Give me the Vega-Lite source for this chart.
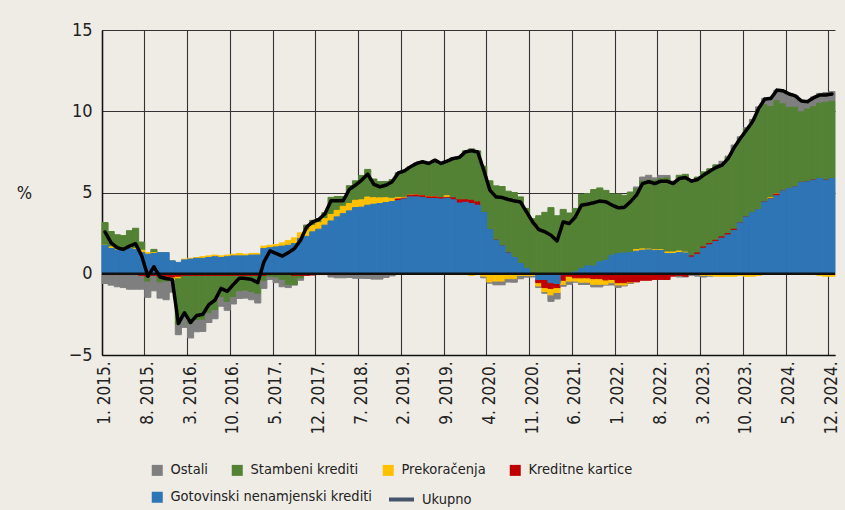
{
  "$schema": "https://vega.github.io/schema/vega-lite/v6.json",
  "width": 733,
  "height": 325,
  "autosize": {"type": "none"},
  "padding": {"left": 102, "top": 30, "right": 10, "bottom": 155},
  "background": "#EFECE6",
  "config": {
    "view": {"stroke": null},
    "font": "Liberation Sans Narrow, DejaVu Sans Condensed, sans-serif",
    "axis": {"labelFont": "Liberation Sans Narrow, DejaVu Sans Condensed, sans-serif", "labelColor": "#222222", "labelFontSize": 18, "ticks": false, "domainColor": "#111111", "domainWidth": 1.5, "gridColor": "#333333", "gridWidth": 1.1, "gridOpacity": 1},
    "legend": {"labelFont": "Liberation Sans Narrow, DejaVu Sans Condensed, sans-serif", "labelFontSize": 14.5, "labelColor": "#222222", "padding": 0, "labelLimit": 400}
  },
  "data": {"values": [
    {"m":"2015-01","Gotovinski nenamjenski krediti":1.75,"Kreditne kartice":-0.05,"Prekoračenja":0,"Stambeni krediti":1.4,"Ostali":-0.55,"Ukupno":2.57},
    {"m":"2015-02","Gotovinski nenamjenski krediti":1.55,"Kreditne kartice":-0.05,"Prekoračenja":0.1,"Stambeni krediti":0.95,"Ostali":-0.65,"Ukupno":1.9},
    {"m":"2015-03","Gotovinski nenamjenski krediti":1.45,"Kreditne kartice":-0.05,"Prekoračenja":0.05,"Stambeni krediti":0.9,"Ostali":-0.75,"Ukupno":1.6},
    {"m":"2015-04","Gotovinski nenamjenski krediti":1.45,"Kreditne kartice":-0.05,"Prekoračenja":0.05,"Stambeni krediti":0.85,"Ostali":-0.8,"Ukupno":1.5},
    {"m":"2015-05","Gotovinski nenamjenski krediti":1.55,"Kreditne kartice":-0.05,"Prekoračenja":0.05,"Stambeni krediti":1.05,"Ostali":-0.9,"Ukupno":1.7},
    {"m":"2015-06","Gotovinski nenamjenski krediti":1.5,"Kreditne kartice":-0.05,"Prekoračenja":0.05,"Stambeni krediti":1.25,"Ostali":-0.9,"Ukupno":1.85},
    {"m":"2015-07","Gotovinski nenamjenski krediti":1.3,"Kreditne kartice":-0.1,"Prekoračenja":0.15,"Stambeni krediti":0.5,"Ostali":-0.85,"Ukupno":1.1},
    {"m":"2015-08","Gotovinski nenamjenski krediti":1.2,"Kreditne kartice":-0.15,"Prekoračenja":0.1,"Stambeni krediti":-0.3,"Ostali":-1.0,"Ukupno":-0.15},
    {"m":"2015-09","Gotovinski nenamjenski krediti":1.25,"Kreditne kartice":-0.1,"Prekoračenja":0.05,"Stambeni krediti":0.2,"Ostali":-0.95,"Ukupno":0.43},
    {"m":"2015-10","Gotovinski nenamjenski krediti":1.3,"Kreditne kartice":-0.15,"Prekoračenja":0,"Stambeni krediti":-0.35,"Ostali":-1.0,"Ukupno":-0.2},
    {"m":"2015-11","Gotovinski nenamjenski krediti":1.3,"Kreditne kartice":-0.15,"Prekoračenja":0,"Stambeni krediti":-0.3,"Ostali":-1.15,"Ukupno":-0.3},
    {"m":"2015-12","Gotovinski nenamjenski krediti":0.78,"Kreditne kartice":-0.2,"Prekoračenja":-0.15,"Stambeni krediti":0,"Ostali":-0.78,"Ukupno":-0.35},
    {"m":"2016-01","Gotovinski nenamjenski krediti":0.7,"Kreditne kartice":-0.15,"Prekoračenja":-0.1,"Stambeni krediti":-2.85,"Ostali":-0.65,"Ukupno":-3.06},
    {"m":"2016-02","Gotovinski nenamjenski krediti":0.85,"Kreditne kartice":-0.1,"Prekoračenja":0.05,"Stambeni krediti":-2.5,"Ostali":-0.7,"Ukupno":-2.4},
    {"m":"2016-03","Gotovinski nenamjenski krediti":0.9,"Kreditne kartice":-0.1,"Prekoračenja":0.05,"Stambeni krediti":-2.95,"Ostali":-0.9,"Ukupno":-3.0},
    {"m":"2016-04","Gotovinski nenamjenski krediti":0.95,"Kreditne kartice":-0.1,"Prekoračenja":0.05,"Stambeni krediti":-2.72,"Ostali":-0.75,"Ukupno":-2.57},
    {"m":"2016-05","Gotovinski nenamjenski krediti":0.95,"Kreditne kartice":-0.1,"Prekoračenja":0.1,"Stambeni krediti":-2.7,"Ostali":-0.75,"Ukupno":-2.5},
    {"m":"2016-06","Gotovinski nenamjenski krediti":1.0,"Kreditne kartice":-0.1,"Prekoračenja":0.1,"Stambeni krediti":-2.3,"Ostali":-0.6,"Ukupno":-1.9},
    {"m":"2016-07","Gotovinski nenamjenski krediti":1.05,"Kreditne kartice":-0.1,"Prekoračenja":0.1,"Stambeni krediti":-2.1,"Ostali":-0.57,"Ukupno":-1.62},
    {"m":"2016-08","Gotovinski nenamjenski krediti":1.0,"Kreditne kartice":-0.1,"Prekoračenja":0.1,"Stambeni krediti":-1.3,"Ostali":-0.6,"Ukupno":-0.9},
    {"m":"2016-09","Gotovinski nenamjenski krediti":1.05,"Kreditne kartice":-0.1,"Prekoračenja":0.1,"Stambeni krediti":-1.6,"Ostali":-0.55,"Ukupno":-1.09},
    {"m":"2016-10","Gotovinski nenamjenski krediti":1.1,"Kreditne kartice":-0.1,"Prekoračenja":0.1,"Stambeni krediti":-1.3,"Ostali":-0.46,"Ukupno":-0.66},
    {"m":"2016-11","Gotovinski nenamjenski krediti":1.1,"Kreditne kartice":-0.1,"Prekoračenja":0.15,"Stambeni krediti":-0.95,"Ostali":-0.47,"Ukupno":-0.27},
    {"m":"2016-12","Gotovinski nenamjenski krediti":1.1,"Kreditne kartice":-0.1,"Prekoračenja":0.1,"Stambeni krediti":-0.9,"Ostali":-0.5,"Ukupno":-0.29},
    {"m":"2017-01","Gotovinski nenamjenski krediti":1.15,"Kreditne kartice":-0.1,"Prekoračenja":0.1,"Stambeni krediti":-1.0,"Ostali":-0.5,"Ukupno":-0.35},
    {"m":"2017-02","Gotovinski nenamjenski krediti":1.15,"Kreditne kartice":-0.1,"Prekoračenja":0.1,"Stambeni krediti":-1.1,"Ostali":-0.6,"Ukupno":-0.55},
    {"m":"2017-03","Gotovinski nenamjenski krediti":1.55,"Kreditne kartice":-0.1,"Prekoračenja":0.15,"Stambeni krediti":-0.3,"Ostali":-0.5,"Ukupno":0.72},
    {"m":"2017-04","Gotovinski nenamjenski krediti":1.6,"Kreditne kartice":-0.05,"Prekoračenja":0.15,"Stambeni krediti":-0.1,"Ostali":-0.2,"Ukupno":1.4},
    {"m":"2017-05","Gotovinski nenamjenski krediti":1.65,"Kreditne kartice":-0.05,"Prekoračenja":0.15,"Stambeni krediti":-0.15,"Ostali":-0.35,"Ukupno":1.25},
    {"m":"2017-06","Gotovinski nenamjenski krediti":1.7,"Kreditne kartice":-0.05,"Prekoračenja":0.2,"Stambeni krediti":-0.3,"Ostali":-0.45,"Ukupno":1.09},
    {"m":"2017-07","Gotovinski nenamjenski krediti":1.75,"Kreditne kartice":-0.05,"Prekoračenja":0.3,"Stambeni krediti":-0.6,"Ostali":-0.2,"Ukupno":1.3},
    {"m":"2017-08","Gotovinski nenamjenski krediti":1.86,"Kreditne kartice":-0.1,"Prekoračenja":0.35,"Stambeni krediti":-0.55,"Ostali":-0.05,"Ukupno":1.55},
    {"m":"2017-09","Gotovinski nenamjenski krediti":2.17,"Kreditne kartice":-0.1,"Prekoračenja":0.35,"Stambeni krediti":-0.15,"Ostali":-0.15,"Ukupno":2.06},
    {"m":"2017-10","Gotovinski nenamjenski krediti":2.3,"Kreditne kartice":-0.1,"Prekoračenja":0.4,"Stambeni krediti":0.28,"Ostali":0,"Ukupno":2.88},
    {"m":"2017-11","Gotovinski nenamjenski krediti":2.58,"Kreditne kartice":-0.08,"Prekoračenja":0.4,"Stambeni krediti":0.3,"Ostali":0,"Ukupno":3.19},
    {"m":"2017-12","Gotovinski nenamjenski krediti":2.74,"Kreditne kartice":-0.05,"Prekoračenja":0.4,"Stambeni krediti":0.25,"Ostali":0,"Ukupno":3.34},
    {"m":"2018-01","Gotovinski nenamjenski krediti":2.99,"Kreditne kartice":-0.05,"Prekoračenja":0.4,"Stambeni krediti":0.36,"Ostali":0,"Ukupno":3.7},
    {"m":"2018-02","Gotovinski nenamjenski krediti":3.25,"Kreditne kartice":-0.05,"Prekoračenja":0.4,"Stambeni krediti":1.05,"Ostali":-0.15,"Ukupno":4.49},
    {"m":"2018-03","Gotovinski nenamjenski krediti":3.5,"Kreditne kartice":-0.05,"Prekoračenja":0.4,"Stambeni krediti":0.85,"Ostali":-0.2,"Ukupno":4.49},
    {"m":"2018-04","Gotovinski nenamjenski krediti":3.7,"Kreditne kartice":-0.05,"Prekoračenja":0.45,"Stambeni krediti":0.6,"Ostali":-0.2,"Ukupno":4.5},
    {"m":"2018-05","Gotovinski nenamjenski krediti":3.87,"Kreditne kartice":-0.03,"Prekoračenja":0.45,"Stambeni krediti":1.1,"Ostali":-0.2,"Ukupno":5.2},
    {"m":"2018-06","Gotovinski nenamjenski krediti":4.07,"Kreditne kartice":-0.03,"Prekoračenja":0.45,"Stambeni krediti":1.2,"Ostali":-0.25,"Ukupno":5.45},
    {"m":"2018-07","Gotovinski nenamjenski krediti":4.1,"Kreditne kartice":-0.03,"Prekoračenja":0.45,"Stambeni krediti":1.5,"Ostali":-0.25,"Ukupno":5.76},
    {"m":"2018-08","Gotovinski nenamjenski krediti":4.22,"Kreditne kartice":-0.03,"Prekoračenja":0.5,"Stambeni krediti":1.7,"Ostali":-0.26,"Ukupno":6.13},
    {"m":"2018-09","Gotovinski nenamjenski krediti":4.28,"Kreditne kartice":-0.03,"Prekoračenja":0.4,"Stambeni krediti":1.15,"Ostali":-0.3,"Ukupno":5.5},
    {"m":"2018-10","Gotovinski nenamjenski krediti":4.32,"Kreditne kartice":-0.03,"Prekoračenja":0.35,"Stambeni krediti":1.0,"Ostali":-0.3,"Ukupno":5.35},
    {"m":"2018-11","Gotovinski nenamjenski krediti":4.38,"Kreditne kartice":-0.03,"Prekoračenja":0.3,"Stambeni krediti":1.0,"Ostali":-0.2,"Ukupno":5.45},
    {"m":"2018-12","Gotovinski nenamjenski krediti":4.44,"Kreditne kartice":-0.03,"Prekoračenja":0.2,"Stambeni krediti":1.15,"Ostali":-0.1,"Ukupno":5.66},
    {"m":"2019-01","Gotovinski nenamjenski krediti":4.5,"Kreditne kartice":0.1,"Prekoračenja":0.1,"Stambeni krediti":1.5,"Ostali":0,"Ukupno":6.2},
    {"m":"2019-02","Gotovinski nenamjenski krediti":4.6,"Kreditne kartice":0.05,"Prekoračenja":0.05,"Stambeni krediti":1.6,"Ostali":0.03,"Ukupno":6.33},
    {"m":"2019-03","Gotovinski nenamjenski krediti":4.73,"Kreditne kartice":0.1,"Prekoračenja":0,"Stambeni krediti":1.75,"Ostali":0,"Ukupno":6.58},
    {"m":"2019-04","Gotovinski nenamjenski krediti":4.73,"Kreditne kartice":0.12,"Prekoračenja":0,"Stambeni krediti":1.94,"Ostali":0,"Ukupno":6.79},
    {"m":"2019-05","Gotovinski nenamjenski krediti":4.7,"Kreditne kartice":0.1,"Prekoračenja":0,"Stambeni krediti":2.1,"Ostali":0,"Ukupno":6.89},
    {"m":"2019-06","Gotovinski nenamjenski krediti":4.63,"Kreditne kartice":0.1,"Prekoračenja":0,"Stambeni krediti":2.0,"Ostali":0.06,"Ukupno":6.79},
    {"m":"2019-07","Gotovinski nenamjenski krediti":4.63,"Kreditne kartice":0.1,"Prekoračenja":0,"Stambeni krediti":2.2,"Ostali":0.06,"Ukupno":6.99},
    {"m":"2019-08","Gotovinski nenamjenski krediti":4.6,"Kreditne kartice":0.08,"Prekoračenja":0,"Stambeni krediti":2.05,"Ostali":0.06,"Ukupno":6.79},
    {"m":"2019-09","Gotovinski nenamjenski krediti":4.65,"Kreditne kartice":0.05,"Prekoračenja":0.1,"Stambeni krediti":2.13,"Ostali":0,"Ukupno":6.93},
    {"m":"2019-10","Gotovinski nenamjenski krediti":4.55,"Kreditne kartice":0.12,"Prekoračenja":-0.05,"Stambeni krediti":2.47,"Ostali":0,"Ukupno":7.09},
    {"m":"2019-11","Gotovinski nenamjenski krediti":4.35,"Kreditne kartice":0.2,"Prekoračenja":-0.05,"Stambeni krediti":2.66,"Ostali":0,"Ukupno":7.16},
    {"m":"2019-12","Gotovinski nenamjenski krediti":4.4,"Kreditne kartice":0.15,"Prekoračenja":-0.05,"Stambeni krediti":3.0,"Ostali":0,"Ukupno":7.5},
    {"m":"2020-01","Gotovinski nenamjenski krediti":4.32,"Kreditne kartice":0.2,"Prekoračenja":-0.1,"Stambeni krediti":3.15,"Ostali":0,"Ukupno":7.57},
    {"m":"2020-02","Gotovinski nenamjenski krediti":4.22,"Kreditne kartice":0.2,"Prekoračenja":-0.05,"Stambeni krediti":3.13,"Ostali":0,"Ukupno":7.5},
    {"m":"2020-03","Gotovinski nenamjenski krediti":3.77,"Kreditne kartice":0,"Prekoračenja":-0.15,"Stambeni krediti":2.85,"Ostali":-0.1,"Ukupno":6.38},
    {"m":"2020-04","Gotovinski nenamjenski krediti":2.72,"Kreditne kartice":0,"Prekoračenja":-0.5,"Stambeni krediti":3.0,"Ostali":-0.08,"Ukupno":5.14},
    {"m":"2020-05","Gotovinski nenamjenski krediti":2.06,"Kreditne kartice":0,"Prekoračenja":-0.45,"Stambeni krediti":3.35,"Ostali":-0.23,"Ukupno":4.73},
    {"m":"2020-06","Gotovinski nenamjenski krediti":1.72,"Kreditne kartice":0,"Prekoračenja":-0.45,"Stambeni krediti":3.65,"Ostali":-0.23,"Ukupno":4.69},
    {"m":"2020-07","Gotovinski nenamjenski krediti":1.28,"Kreditne kartice":0,"Prekoračenja":-0.3,"Stambeni krediti":3.8,"Ostali":-0.21,"Ukupno":4.57},
    {"m":"2020-08","Gotovinski nenamjenski krediti":1.0,"Kreditne kartice":0,"Prekoračenja":-0.3,"Stambeni krediti":4.0,"Ostali":-0.22,"Ukupno":4.48},
    {"m":"2020-09","Gotovinski nenamjenski krediti":0.63,"Kreditne kartice":0,"Prekoračenja":-0.1,"Stambeni krediti":4.1,"Ostali":-0.21,"Ukupno":4.42},
    {"m":"2020-10","Gotovinski nenamjenski krediti":0.32,"Kreditne kartice":0,"Prekoračenja":-0.1,"Stambeni krediti":3.7,"Ostali":-0.11,"Ukupno":3.81},
    {"m":"2020-11","Gotovinski nenamjenski krediti":0.02,"Kreditne kartice":0,"Prekoračenja":-0.1,"Stambeni krediti":3.37,"Ostali":-0.1,"Ukupno":3.19},
    {"m":"2020-12","Gotovinski nenamjenski krediti":-0.35,"Kreditne kartice":-0.2,"Prekoračenja":-0.2,"Stambeni krediti":3.57,"Ostali":-0.1,"Ukupno":2.72},
    {"m":"2021-01","Gotovinski nenamjenski krediti":-0.35,"Kreditne kartice":-0.5,"Prekoračenja":-0.25,"Stambeni krediti":3.78,"Ostali":-0.1,"Ukupno":2.58},
    {"m":"2021-02","Gotovinski nenamjenski krediti":-0.55,"Kreditne kartice":-0.35,"Prekoračenja":-0.4,"Stambeni krediti":4.07,"Ostali":-0.4,"Ukupno":2.37},
    {"m":"2021-03","Gotovinski nenamjenski krediti":-0.6,"Kreditne kartice":-0.25,"Prekoračenja":-0.3,"Stambeni krediti":3.57,"Ostali":-0.4,"Ukupno":2.02},
    {"m":"2021-04","Gotovinski nenamjenski krediti":-0.05,"Kreditne kartice":-0.35,"Prekoračenja":-0.25,"Stambeni krediti":3.96,"Ostali":-0.12,"Ukupno":3.19},
    {"m":"2021-05","Gotovinski nenamjenski krediti":0.03,"Kreditne kartice":-0.15,"Prekoračenja":-0.3,"Stambeni krediti":3.71,"Ostali":-0.2,"Ukupno":3.09},
    {"m":"2021-06","Gotovinski nenamjenski krediti":0.11,"Kreditne kartice":-0.25,"Prekoračenja":-0.2,"Stambeni krediti":3.91,"Ostali":-0.07,"Ukupno":3.5},
    {"m":"2021-07","Gotovinski nenamjenski krediti":0.32,"Kreditne kartice":-0.25,"Prekoračenja":-0.27,"Stambeni krediti":4.56,"Ostali":-0.14,"Ukupno":4.22},
    {"m":"2021-08","Gotovinski nenamjenski krediti":0.48,"Kreditne kartice":-0.25,"Prekoračenja":-0.27,"Stambeni krediti":4.46,"Ostali":-0.14,"Ukupno":4.28},
    {"m":"2021-09","Gotovinski nenamjenski krediti":0.48,"Kreditne kartice":-0.3,"Prekoračenja":-0.35,"Stambeni krediti":4.7,"Ostali":-0.16,"Ukupno":4.37},
    {"m":"2021-10","Gotovinski nenamjenski krediti":0.73,"Kreditne kartice":-0.3,"Prekoračenja":-0.35,"Stambeni krediti":4.55,"Ostali":-0.16,"Ukupno":4.47},
    {"m":"2021-11","Gotovinski nenamjenski krediti":0.83,"Kreditne kartice":-0.38,"Prekoračenja":-0.27,"Stambeni krediti":4.3,"Ostali":-0.05,"Ukupno":4.43},
    {"m":"2021-12","Gotovinski nenamjenski krediti":1.14,"Kreditne kartice":-0.35,"Prekoračenja":-0.2,"Stambeni krediti":3.77,"Ostali":-0.14,"Ukupno":4.22},
    {"m":"2022-01","Gotovinski nenamjenski krediti":1.24,"Kreditne kartice":-0.55,"Prekoračenja":-0.14,"Stambeni krediti":3.66,"Ostali":-0.15,"Ukupno":4.06},
    {"m":"2022-02","Gotovinski nenamjenski krediti":1.28,"Kreditne kartice":-0.55,"Prekoračenja":-0.14,"Stambeni krediti":3.55,"Ostali":-0.06,"Ukupno":4.08},
    {"m":"2022-03","Gotovinski nenamjenski krediti":1.3,"Kreditne kartice":-0.5,"Prekoračenja":-0.05,"Stambeni krediti":3.73,"Ostali":-0.05,"Ukupno":4.43},
    {"m":"2022-04","Gotovinski nenamjenski krediti":1.39,"Kreditne kartice":-0.5,"Prekoračenja":0.1,"Stambeni krediti":3.75,"Ostali":0.1,"Ukupno":4.84},
    {"m":"2022-05","Gotovinski nenamjenski krediti":1.45,"Kreditne kartice":-0.4,"Prekoračenja":0.08,"Stambeni krediti":4.17,"Ostali":0.25,"Ukupno":5.55},
    {"m":"2022-06","Gotovinski nenamjenski krediti":1.47,"Kreditne kartice":-0.4,"Prekoračenja":0.05,"Stambeni krediti":4.24,"Ostali":0.3,"Ukupno":5.66},
    {"m":"2022-07","Gotovinski nenamjenski krediti":1.44,"Kreditne kartice":-0.35,"Prekoračenja":0.05,"Stambeni krediti":4.26,"Ostali":0.15,"Ukupno":5.55},
    {"m":"2022-08","Gotovinski nenamjenski krediti":1.44,"Kreditne kartice":-0.35,"Prekoračenja":0.05,"Stambeni krediti":4.36,"Ostali":0.2,"Ukupno":5.7},
    {"m":"2022-09","Gotovinski nenamjenski krediti":1.24,"Kreditne kartice":-0.35,"Prekoračenja":0.1,"Stambeni krediti":4.56,"Ostali":0.15,"Ukupno":5.7},
    {"m":"2022-10","Gotovinski nenamjenski krediti":1.24,"Kreditne kartice":-0.15,"Prekoračenja":0.1,"Stambeni krediti":4.26,"Ostali":0.1,"Ukupno":5.55},
    {"m":"2022-11","Gotovinski nenamjenski krediti":1.3,"Kreditne kartice":-0.1,"Prekoračenja":0.1,"Stambeni krediti":4.66,"Ostali":-0.1,"Ukupno":5.86},
    {"m":"2022-12","Gotovinski nenamjenski krediti":1.28,"Kreditne kartice":-0.15,"Prekoračenja":0.05,"Stambeni krediti":4.79,"Ostali":-0.05,"Ukupno":5.92},
    {"m":"2023-01","Gotovinski nenamjenski krediti":1.02,"Kreditne kartice":0.08,"Prekoračenja":-0.05,"Stambeni krediti":4.7,"Ostali":-0.05,"Ukupno":5.7},
    {"m":"2023-02","Gotovinski nenamjenski krediti":1.2,"Kreditne kartice":0.08,"Prekoračenja":-0.05,"Stambeni krediti":4.67,"Ostali":-0.1,"Ukupno":5.8},
    {"m":"2023-03","Gotovinski nenamjenski krediti":1.57,"Kreditne kartice":0.08,"Prekoračenja":-0.1,"Stambeni krediti":4.62,"Ostali":-0.1,"Ukupno":6.07},
    {"m":"2023-04","Gotovinski nenamjenski krediti":1.78,"Kreditne kartice":0.08,"Prekoračenja":-0.1,"Stambeni krediti":4.6,"Ostali":-0.05,"Ukupno":6.31},
    {"m":"2023-05","Gotovinski nenamjenski krediti":1.98,"Kreditne kartice":0.08,"Prekoračenja":-0.15,"Stambeni krediti":4.63,"Ostali":0,"Ukupno":6.54},
    {"m":"2023-06","Gotovinski nenamjenski krediti":2.19,"Kreditne kartice":0.08,"Prekoračenja":-0.15,"Stambeni krediti":4.45,"Ostali":0.2,"Ukupno":6.68},
    {"m":"2023-07","Gotovinski nenamjenski krediti":2.39,"Kreditne kartice":0.08,"Prekoračenja":-0.15,"Stambeni krediti":4.67,"Ostali":0.1,"Ukupno":7.09},
    {"m":"2023-08","Gotovinski nenamjenski krediti":2.66,"Kreditne kartice":0.08,"Prekoračenja":-0.15,"Stambeni krediti":4.98,"Ostali":0.2,"Ukupno":7.77},
    {"m":"2023-09","Gotovinski nenamjenski krediti":3.13,"Kreditne kartice":0,"Prekoračenja":-0.1,"Stambeni krediti":5.2,"Ostali":0.1,"Ukupno":8.33},
    {"m":"2023-10","Gotovinski nenamjenski krediti":3.5,"Kreditne kartice":0,"Prekoračenja":-0.15,"Stambeni krediti":5.39,"Ostali":0.1,"Ukupno":8.84},
    {"m":"2023-11","Gotovinski nenamjenski krediti":3.77,"Kreditne kartice":0,"Prekoračenja":-0.15,"Stambeni krediti":5.43,"Ostali":0.3,"Ukupno":9.35},
    {"m":"2023-12","Gotovinski nenamjenski krediti":3.95,"Kreditne kartice":0,"Prekoračenja":-0.1,"Stambeni krediti":6.12,"Ostali":0.2,"Ukupno":10.17},
    {"m":"2024-01","Gotovinski nenamjenski krediti":4.42,"Kreditne kartice":0,"Prekoračenja":-0.05,"Stambeni krediti":5.98,"Ostali":0.4,"Ukupno":10.75},
    {"m":"2024-02","Gotovinski nenamjenski krediti":4.6,"Kreditne kartice":0,"Prekoračenja":0.07,"Stambeni krediti":5.62,"Ostali":0.5,"Ukupno":10.79},
    {"m":"2024-03","Gotovinski nenamjenski krediti":4.8,"Kreditne kartice":0.1,"Prekoračenja":0,"Stambeni krediti":5.75,"Ostali":0.65,"Ukupno":11.3},
    {"m":"2024-04","Gotovinski nenamjenski krediti":5.1,"Kreditne kartice":0,"Prekoračenja":0,"Stambeni krediti":5.36,"Ostali":0.8,"Ukupno":11.26},
    {"m":"2024-05","Gotovinski nenamjenski krediti":5.24,"Kreditne kartice":0,"Prekoračenja":-0.03,"Stambeni krediti":5.0,"Ostali":0.85,"Ukupno":11.06},
    {"m":"2024-06","Gotovinski nenamjenski krediti":5.35,"Kreditne kartice":0,"Prekoračenja":0,"Stambeni krediti":4.9,"Ostali":0.7,"Ukupno":10.95},
    {"m":"2024-07","Gotovinski nenamjenski krediti":5.62,"Kreditne kartice":0,"Prekoračenja":-0.03,"Stambeni krediti":4.34,"Ostali":0.7,"Ukupno":10.63},
    {"m":"2024-08","Gotovinski nenamjenski krediti":5.66,"Kreditne kartice":0,"Prekoračenja":-0.05,"Stambeni krediti":4.48,"Ostali":0.5,"Ukupno":10.59},
    {"m":"2024-09","Gotovinski nenamjenski krediti":5.76,"Kreditne kartice":0,"Prekoračenja":-0.05,"Stambeni krediti":4.52,"Ostali":0.6,"Ukupno":10.83},
    {"m":"2024-10","Gotovinski nenamjenski krediti":5.86,"Kreditne kartice":0,"Prekoračenja":-0.1,"Stambeni krediti":4.64,"Ostali":0.6,"Ukupno":11.0},
    {"m":"2024-11","Gotovinski nenamjenski krediti":5.76,"Kreditne kartice":0,"Prekoračenja":-0.15,"Stambeni krediti":4.79,"Ostali":0.6,"Ukupno":11.0},
    {"m":"2024-12","Gotovinski nenamjenski krediti":5.86,"Kreditne kartice":0,"Prekoračenja":-0.15,"Stambeni krediti":4.75,"Ostali":0.6,"Ukupno":11.06}
  ]},
  "encoding": {
    "x": {
      "field": "m", "type": "ordinal",
      "scale": {"paddingInner": 0, "paddingOuter": 0},
      "axis": {
        "title": null,
        "values": ["2015-01","2015-08","2016-03","2016-10","2017-05","2017-12","2018-07","2019-02","2019-09","2020-04","2020-11","2021-06","2022-01","2022-08","2023-03","2023-10","2024-05","2024-12"],
        "labelExpr": "toNumber(substring(datum.value,5,7)) + '. ' + substring(datum.value,0,4) + '.'",
        "labelAngle": -90, "labelAlign": "right", "labelBaseline": "middle", "labelPadding": 6, "labelFontSize": 17,
        "grid": true, "bandPosition": 0, "domain": true
      }
    }
  },
  "layer": [
    {
      "transform": [
        {"fold": ["Ostali","Stambeni krediti","Prekoračenja","Kreditne kartice","Gotovinski nenamjenski krediti"], "as": ["key","value"]},
        {"lookup": "key", "from": {"data": {"values": [
          {"key": "Gotovinski nenamjenski krediti", "rank": 1},
          {"key": "Kreditne kartice", "rank": 2},
          {"key": "Prekoračenja", "rank": 3},
          {"key": "Stambeni krediti", "rank": 4},
          {"key": "Ostali", "rank": 5}
        ]}, "key": "key", "fields": ["rank"]}},
        {"stack": "value", "groupby": ["m"], "sort": [{"field": "rank", "order": "ascending"}], "as": ["v0", "v1"], "offset": "zero"}
      ],
      "layer": [
        {
          "transform": [{"filter": {"field": "key", "oneOf": ["Ostali","Stambeni krediti","Prekoračenja","Kreditne kartice"]}}],
          "mark": {"type": "bar", "strokeWidth": 1},
          "encoding": {
            "y": {
              "field": "v0", "type": "quantitative",
              "scale": {"domain": [-5, 15], "nice": false},
              "axis": {"values": [-5, 0, 5, 10, 15], "grid": true, "labelPadding": 10, "title": "%", "titleAngle": 0, "titleX": -78, "titleY": 163, "titleAlign": "center", "titleBaseline": "middle", "titleFont": "Liberation Sans Narrow, DejaVu Sans Condensed, sans-serif", "titleFontSize": 18, "titleFontWeight": "normal", "titleColor": "#222222"}
            },
            "y2": {"field": "v1"},
            "color": {
              "field": "key", "type": "nominal",
              "scale": {"domain": ["Ostali","Stambeni krediti","Prekoračenja","Kreditne kartice"], "range": ["#7F7F7F","#548235","#FFC000","#C00000"]},
              "legend": {"title": null, "orient": "none", "direction": "horizontal", "legendX": 48, "legendY": 433, "columnPadding": 22, "symbolType": "square", "symbolSize": 121, "symbolStrokeWidth": 0, "labelOffset": 6}
            },
            "stroke": {
              "field": "key", "type": "nominal",
              "scale": {"domain": ["Ostali","Stambeni krediti","Prekoračenja","Kreditne kartice"], "range": ["#7F7F7F","#548235","#FFC000","#C00000"]},
              "legend": null
            }
          }
        },
        {
          "transform": [{"filter": {"field": "key", "equal": "Gotovinski nenamjenski krediti"}}],
          "mark": {"type": "bar", "stroke": "#2E75B6", "strokeWidth": 1},
          "encoding": {
            "y": {"field": "v0", "type": "quantitative"},
            "y2": {"field": "v1"},
            "fill": {
              "field": "key", "type": "nominal",
              "scale": {"domain": ["Gotovinski nenamjenski krediti"], "range": ["#2E75B6"]},
              "legend": {"title": null, "orient": "none", "legendX": 48, "legendY": 460, "symbolType": "square", "symbolSize": 121, "symbolStrokeWidth": 0, "labelOffset": 6}
            }
          }
        }
      ]
    },
    {
      "data": {"values": [{}]},
      "mark": {"type": "rule", "color": "#111111", "strokeWidth": 2.5},
      "encoding": {"y": {"datum": 0}, "x": null}
    },
    {
      "mark": {"type": "line", "color": "#000000", "strokeWidth": 3.5, "strokeJoin": "round", "strokeCap": "round"},
      "encoding": {
        "y": {"field": "Ukupno", "type": "quantitative"},
        "strokeDash": {"datum": "Ukupno", "scale": {"range": [[1, 0]]}, "legend": {"title": null, "orient": "none", "legendX": 285, "legendY": 455, "symbolType": "stroke", "symbolSize": 625, "symbolStrokeWidth": 4, "symbolStrokeColor": "#44546A", "labelOffset": 6}}
      }
    }
  ]
}
